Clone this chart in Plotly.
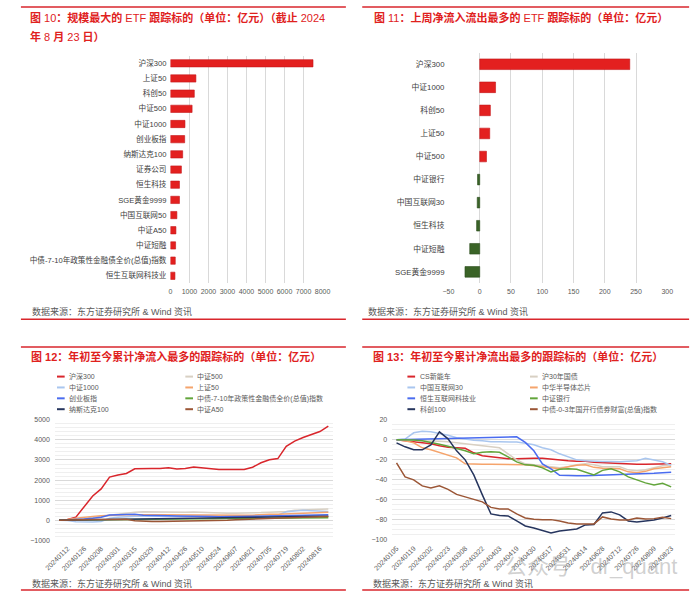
import plotly.graph_objects as go

W, H = 700, 598
def X(px): return px / W
def Y(py): return 1 - py / H

FONT = "Liberation Sans, Noto Sans CJK SC, sans-serif"
RED = "#e3201f"
GREEN = "#3a6327"
RULE = "#d9262c"
GRID = "#d9d9d9"
MINOR = "#efefef"
TXT = "#595959"

# ---------------- data ----------------
cat10 = ["沪深300", "上证50", "科创50", "中证500", "中证1000", "创业板指", "纳斯达克100", "证券公司",
         "恒生科技", "SGE黄金9999", "中国互联网50", "中证A50", "中证短融",
         "中债-7-10年政策性金融债全价(总值)指数", "恒生互联网科技业"]
val10 = [7500, 1340, 1256, 1140, 765, 750, 645, 577, 475, 475, 340, 290, 272, 255, 238]

cat11 = ["沪深300", "中证1000", "科创50", "上证50", "中证500", "中证银行", "中国互联网30",
         "恒生科技", "中证短融", "SGE黄金9999"]
val11 = [240, 25.3, 17, 16, 10.8, -3.5, -4, -5, -16, -23.6]

dates = ["20240105", "20240112", "20240119", "20240126", "20240202", "20240208", "20240223",
         "20240301", "20240308", "20240315", "20240322", "20240329", "20240403", "20240412",
         "20240419", "20240426", "20240430", "20240510", "20240517", "20240524", "20240531",
         "20240607", "20240614", "20240621", "20240628", "20240705", "20240712", "20240719",
         "20240726", "20240802", "20240809", "20240816", "20240823"]
ticks12 = dates[1::2]
ticks13 = dates[0::2]

names12 = ["沪深300", "中证500", "中证1000", "上证50", "创业板指",
           "中债-7-10年政策性金融债全价(总值)指数", "纳斯达克100", "中证A50"]
hs300 = [0, 30, 150, 690, 1210, 1560, 2150, 2250, 2330, 2560, 2580, 2580, 2580, 2610, 2550, 2580, 2650,
         2610, 2550, 2530, 2530, 2530, 2530, 2640, 2860, 3010, 3070, 3680, 3940, 4120, 4260, 4420, 4690]
zz500 = [0, 0, 20, 100, 150, 200, 280, 330, 370, 400, 420, 410, 400, 390, 380, 390, 410,
         390, 370, 360, 350, 350, 350, 360, 380, 400, 410, 430, 500, 520, 540, 540, 560]
zz1000 = [0, -20, -80, -100, -90, -60, 100, 150, 180, 200, 200, 190, 190, 190, 180, 180, 190,
          190, 180, 180, 180, 190, 190, 200, 210, 220, 250, 420, 470, 490, 470, 450, 430]
sz50 = [0, 30, 100, 160, 190, 220, 250, 260, 270, 280, 270, 265, 265, 260, 260, 265, 270,
        260, 240, 230, 230, 230, 240, 250, 280, 290, 300, 320, 330, 340, 350, 380, 400]
cyb = [0, 10, 40, 60, 100, 150, 260, 270, 270, 290, 250, 230, 220, 220, 210, 210, 200,
       200, 180, 170, 170, 170, 180, 190, 200, 210, 220, 240, 250, 250, 260, 260, 270]
zz710 = [0, 5, 10, 20, 30, 40, 50, 55, 60, 60, 65, 70, 70, 75, 75, 80, 80,
         85, 85, 90, 90, 95, 95, 100, 100, 105, 105, 110, 110, 115, 115, 120, 120]
ndx = [0, 5, 10, 15, 20, 30, 35, 40, 45, 50, 60, 65, 70, 70, 75, 80, 85,
       90, 95, 100, 110, 115, 120, 130, 140, 150, 160, 165, 170, 175, 180, 190, 200]
a50 = [0, 0, 10, 20, 30, 40, 50, 50, 50, -30, -60, -60, -60, -55, -55, -50, -50,
       -40, -30, -20, 0, 20, 40, 60, 80, 100, 120, 130, 140, 150, 160, 170, 180]
series12 = [hs300, zz500, zz1000, sz50, cyb, zz710, ndx, a50]

names13 = ["CS新能车", "沪30年国债", "中国互联网30", "中华半导体芯片", "恒生互联网科技业",
           "中证银行", "科创100", "中债-0-3年国开行债券财富(总值)指数"]
csxnc = [0, -1, -2, -3, -4, -6, -7.5, -8, -8.5, -13, -16, -17, -18, -19, -19, -18.5, -18.5,
         -18.5, -19.5, -20.5, -21, -21.5, -21.5, -22.5, -23, -23, -23.5, -24, -24.5, -24.5, -24.5, -24.5, -24]
gz30 = [0, 0, -0.5, -1, -1, -1.5, -2, -3, -4, -5, -6, -7, -8, -14, -20, -24, -25,
        -26, -27, -28, -27, -25, -24, -25, -27, -27, -27, -30, -31, -30, -28, -26, -25]
hlw30 = [0, 0.7, 7, 8.5, 8, 6.5, 4.5, 2, 0.5, -0.5, -1, -2, -2, -2, -2.3, -3.5, -5,
         -8, -10, -14, -17, -20, -21, -21.5, -21.6, -21.6, -22, -21.5, -21, -18.5, -20, -22, -25.5]
bdt = [0, -1, -3, -8, -10, -12.5, -15, -18, -24, -24.5, -24.5, -24.5, -24.5, -24.5, -25, -25, -26,
       -27, -28, -29, -27, -25.5, -25, -27.5, -28.5, -29, -29, -32, -33, -31.5, -29, -28, -27]
hskj = [0, 0.2, 0.4, 0.6, 0.8, 1, 1.2, 1.4, 1.6, 1.8, 2, 2.2, 2.4, 2.6, 3, -2.6, -11,
        -24, -29, -35.5, -36, -36, -35.8, -35.6, -35.4, -35.2, -35, -34.8, -34.5, -34, -33.5, -33, -32.5]
zzyh = [0, 0, -0.3, -1, -2.5, -4.5, -6.5, -8.5, -11, -14, -12.5, -12, -12.5, -17, -22, -25, -25.5,
        -28, -32, -29.5, -29, -29.5, -32, -35, -30.5, -29, -32, -37, -40, -43, -45, -43.5, -47]
kc100 = [-3, -7, -10, -10, -5, 8, 1, -11, -20, -35, -55, -74, -75.5, -76, -81, -86, -88,
         -90.5, -93, -91, -90, -89, -85, -84.6, -73, -72, -75, -81, -82, -81, -80, -78, -75.5]
zz03 = [-23, -37, -40, -46, -48, -46, -49.5, -54.5, -57, -59.4, -62, -67.5, -69, -69, -74, -78, -79.4,
        -79.7, -79.7, -81, -83, -84, -84, -84, -77, -79, -80, -80, -78, -79, -78.7, -77.4, -78.7]
series13 = [csxnc, gz30, hlw30, bdt, hskj, zzyh, kc100, zz03]

line_colors = ["#d9262c", "#d8d0c3", "#a9c6ef", "#f5a46c", "#4a6cf0", "#62a53b", "#26355e", "#9b5636"]

# ---------------- figure ----------------
fig = go.Figure()

fig.add_trace(go.Bar(y=cat10, x=val10, orientation="h", xaxis="x", yaxis="y", width=0.48,
                     marker=dict(color=RED, line=dict(color="#c4161a", width=0.6))))
fig.add_trace(go.Bar(y=cat11, x=val11, orientation="h", xaxis="x2", yaxis="y2", width=0.46,
                     marker=dict(color=[RED if v >= 0 else GREEN for v in val11],
                                 line=dict(color=["#c4161a" if v >= 0 else "#2c4d1d" for v in val11], width=0.6))))

for nm, s, c in zip(names12, series12, line_colors):
    fig.add_trace(go.Scatter(x=dates, y=s, name=nm, mode="lines", xaxis="x3", yaxis="y3",
                             line=dict(color=c, width=1.5)))
for nm, s, c in zip(names13, series13, line_colors):
    fig.add_trace(go.Scatter(x=dates, y=s, name=nm, mode="lines", xaxis="x4", yaxis="y4",
                             line=dict(color=c, width=1.5)))

tickfont = dict(family=FONT, size=7, color=TXT)
catfont = dict(family=FONT, size=7.6, color="#404040")

fig.update_layout(
    width=W, height=H, margin=dict(l=0, r=0, t=0, b=0),
    paper_bgcolor="white", plot_bgcolor="white", showlegend=False,
    font=dict(family=FONT),
    # panel 10
    xaxis=dict(domain=[X(157.5), X(315.7)], anchor="y", range=[0, 8000], dtick=1000, tick0=0,
               showgrid=True, gridcolor=GRID, zeroline=False, showline=False, ticks="",
               tickfont=tickfont, ticklabelstandoff=3, fixedrange=True),
    yaxis=dict(domain=[Y(282.7), Y(52.3)], anchor="x", type="category", categoryorder="array",
               categoryarray=cat10, range=[len(cat10) - 0.5, -0.5], showgrid=False, showline=False,
               ticks="", tickfont=catfont, ticklabelstandoff=3),
    # panel 11
    xaxis2=dict(domain=[X(446.7), X(674.3)], anchor="y2", range=[-50, 300], dtick=50, tick0=0,
                showgrid=True, gridcolor=GRID, zeroline=True, zerolinecolor=GRID, zerolinewidth=1,
                showline=False, ticks="", tickfont=tickfont, ticklabelstandoff=3),
    yaxis2=dict(domain=[Y(282.7), Y(49.3)], anchor="x2", type="category", categoryorder="array",
                categoryarray=cat11, range=[len(cat11) - 0.5, -0.5], showgrid=False, showline=False,
                ticks="", tickfont=dict(family=FONT, size=7.8, color="#404040"), ticklabelstandoff=3),
    # panel 12
    xaxis3=dict(domain=[X(37.3), X(326.1)], anchor="y3", type="category", categoryorder="array",
                categoryarray=dates, range=[-0.5, len(dates) - 0.5], tickmode="array",
                tickvals=ticks12, ticktext=ticks12, tickangle=-45, showgrid=False, showline=False,
                ticks="", tickfont=tickfont, ticklabelstandoff=2),
    yaxis3=dict(domain=[Y(542.6), Y(420.8)], anchor="x3", range=[-1000, 5000], dtick=1000, tick0=0,
                showgrid=True, gridcolor=GRID, zeroline=False, showline=False, ticks="",
                minor=dict(dtick=200, tick0=0, showgrid=True, gridcolor=MINOR, gridwidth=1),
                tickfont=tickfont, ticklabelstandoff=4),
    # panel 13
    xaxis4=dict(domain=[X(388.2), X(682.8)], anchor="y4", type="category", categoryorder="array",
                categoryarray=dates, range=[-0.5, len(dates) - 0.5], tickmode="array",
                tickvals=ticks13, ticktext=ticks13, tickangle=-45, showgrid=False, showline=False,
                ticks="", tickfont=tickfont, ticklabelstandoff=2),
    yaxis4=dict(domain=[Y(542.3), Y(420.7)], anchor="x4", range=[-100, 20], dtick=20, tick0=0,
                showgrid=True, gridcolor=GRID, zeroline=False, showline=False, ticks="",
                minor=dict(dtick=5, tick0=0, showgrid=True, gridcolor=MINOR, gridwidth=1),
                tickfont=tickfont, ticklabelstandoff=4),
)

# ---------------- rules ----------------
shapes = []
for y in (3, 319, 347, 593):
    for (x0, x1) in ((2, 340), (357, 697)):
        shapes.append(dict(type="line", xref="paper", yref="paper", x0=X(x0), x1=X(x1),
                           y0=Y(y), y1=Y(y), line=dict(color=RULE, width=1.5)))

# ---------------- text ----------------
ann = []
def text(x, y, s, size, color, xanchor="left"):
    ann.append(dict(xref="paper", yref="paper", x=X(x), y=Y(y), text=s, showarrow=False,
                    xanchor=xanchor, yanchor="middle", align="left",
                    font=dict(family=FONT, size=size, color=color)))

TRED = "#e0211d"
TS = 11.0
text(9, 14, "<b>图</b> 10<b>：规模最大的</b> ETF <b>跟踪标的（单位：亿元）（截止</b> 2024", TS, TRED)
text(9, 33, "<b>年</b> 8 <b>月</b> 23 <b>日）</b>", TS, TRED)
text(367, 14, "<b>图</b> 11<b>：上周净流入流出最多的</b> ETF <b>跟踪标的（单位：亿元）</b>", TS, TRED)
text(10, 357, "<b>图 12：年初至今累计净流入最多的跟踪标的（单位：亿元）</b>", TS, TRED)
text(366, 357, "<b>图 13：年初至今累计净流出最多的跟踪标的（单位：亿元）</b>", TS, TRED)

src = "数据来源：东方证券研究所 & Wind 资讯"
text(11, 311, src, 9, TXT)
text(361, 311, src, 9, TXT)
text(11, 586, src, 9, TXT)
text(366, 586, src, 9, TXT)

# manual legends (two columns, row-major)
def legend(names, colors, cols_x, rows_y):
    for k, (nm, c) in enumerate(zip(names, colors)):
        cx = cols_x[k % 2]
        ry = rows_y[k // 2]
        shapes.append(dict(type="line", xref="paper", yref="paper", x0=X(cx), x1=X(cx + 8),
                           y0=Y(ry), y1=Y(ry), line=dict(color=c, width=2)))
        text(cx + 10.5, ry, nm, 7, TXT)

legend(names12, line_colors, (39.5, 173), (377, 388, 399, 410))
legend(names13, line_colors, (404, 531.5), (377, 388, 399, 410))

# watermark
ann.append(dict(xref="paper", yref="paper", x=X(595), y=Y(569), text="公众号 · dr_quant",
                showarrow=False, xanchor="center", yanchor="middle",
                font=dict(family=FONT, size=22, color="rgba(150,150,150,0.45)")))

fig.update_layout(shapes=shapes, annotations=ann)
fig.write_html("out.html")
